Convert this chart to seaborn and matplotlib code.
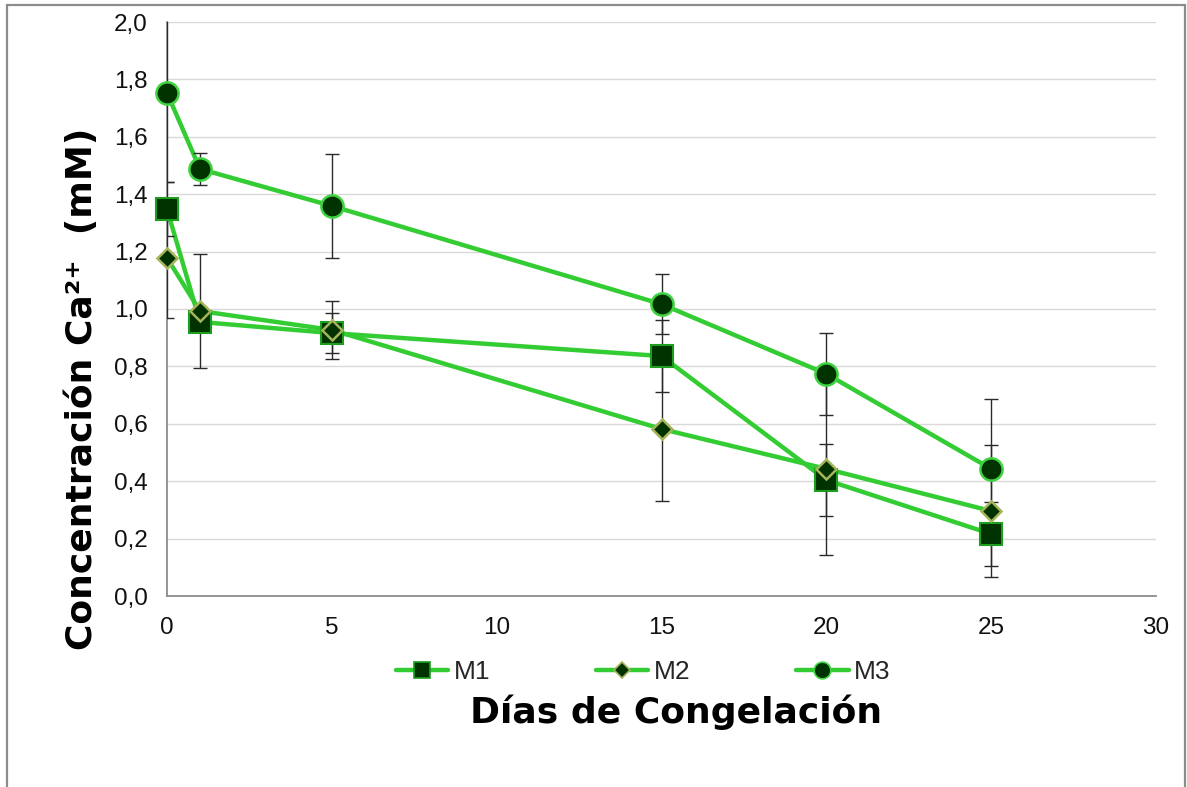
import matplotlib
matplotlib.use("Agg")
import matplotlib.pyplot as plt
from matplotlib.lines import Line2D
from matplotlib.patches import Rectangle
from matplotlib.ticker import FuncFormatter, MultipleLocator
import pandas as pd
import seaborn as sns

# Calcium concentration (mM) over freezing days for three samples
dias = [0, 1, 5, 15, 20, 25]
series = ["M1", "M2", "M3"]
m1 = [1.348, 0.955, 0.916, 0.836, 0.404, 0.216]
m2 = [1.178, 0.993, 0.927, 0.582, 0.443, 0.296]
m3 = [1.753, 1.488, 1.359, 1.017, 0.774, 0.443]
m1_err = [0.095, 0.03, 0.07, 0.125, 0.125, 0.11]
m2_err = [0.21, 0.20, 0.10, 0.25, 0.30, 0.23]
m3_err = [0.31, 0.056, 0.18, 0.105, 0.142, 0.245]

x_ticks = [0, 5, 10, 15, 20, 25, 30]
y_label = "Concentración Ca²⁺  (mM)"
x_label = "Días de Congelación"

values = {"M1": m1, "M2": m2, "M3": m3}
errors = {"M1": m1_err, "M2": m2_err, "M3": m3_err}

rows = []
for s in series:
    for d, v, e in zip(dias, values[s], errors[s]):
        rows.append({"dia": d, "ca": v, "err": e, "muestra": s})
df = pd.DataFrame(rows)

sns.set_theme(style="white")
plt.rcParams["font.family"] = ["Liberation Sans", "DejaVu Sans"]

LINE = "#33CC33"
FILL = "#003300"
styles = {
    "M1": dict(marker="s", markersize=16, markeredgecolor="#1E9E1E", mew=1.5),
    "M2": dict(marker="D", markersize=10.5, markeredgecolor="#A6B45A", mew=1.8),
    "M3": dict(marker="o", markersize=16, markeredgecolor="#3FD43F", mew=1.8),
}

fig = plt.figure(figsize=(11.87, 7.87), dpi=100)
ax = fig.add_axes([167 / 1187, 1 - 596 / 787, (1156 - 167) / 1187, (596 - 22) / 787])

# outer chart frame
fig.patches.append(Rectangle((7 / 1187, -0.05), (1185 - 7) / 1187, 1.05 - 5 / 787,
                             transform=fig.transFigure, fill=False,
                             edgecolor="#8C8C8C", linewidth=1.6, zorder=0))

order = ["M3", "M1", "M2"]
for s in order:
    sub = df[df["muestra"] == s]
    sns.lineplot(data=sub, x="dia", y="ca", ax=ax, color=LINE, linewidth=3.2,
                 errorbar=None, zorder=2, legend=False, sort=False)
for s in order:
    sub = df[df["muestra"] == s]
    ax.errorbar(sub["dia"], sub["ca"], yerr=sub["err"], fmt="none",
                ecolor="#2A2A2A", elinewidth=1.0, capsize=5, capthick=1.0,
                zorder=3)
for s in order:
    sub = df[df["muestra"] == s]
    sns.lineplot(data=sub, x="dia", y="ca", ax=ax, linestyle="none",
                 markerfacecolor=FILL, errorbar=None, zorder=4,
                 legend=False, clip_on=False, **styles[s])

ax.set_xlim(0, 30)
ax.set_ylim(0, 2.0)
ax.set_xticks(x_ticks)
ax.yaxis.set_major_locator(MultipleLocator(0.2))
ax.yaxis.set_major_formatter(FuncFormatter(lambda v, p: f"{v:.1f}".replace(".", ",")))
ax.grid(axis="y", color="#D9D9D9", linewidth=1.0)
ax.grid(axis="x", visible=False)
ax.set_axisbelow(True)
for side in ["top", "right"]:
    ax.spines[side].set_visible(False)
for side in ["left", "bottom"]:
    ax.spines[side].set_color("#8C8C8C")
    ax.spines[side].set_linewidth(1.3)
ax.tick_params(axis="both", which="major", direction="out", length=6,
               width=1.0, color="#8C8C8C", labelsize=17.5, labelcolor="#111111")
ax.tick_params(axis="y", pad=8)
ax.tick_params(axis="x", pad=9)

ax.set_xlabel("")
ax.set_ylabel("")
fig.text(82 / 1187, 1 - 389 / 787, y_label, rotation=90, ha="center", va="center",
         fontsize=26, fontweight="bold", family=["DejaVu Sans"], color="black")

fig.text(676 / 1187, 1 - 712 / 787, x_label, ha="center", va="center",
         fontsize=26, fontweight="bold", family=["DejaVu Sans"], color="black")

handles = [
    Line2D([], [], color=LINE, linewidth=3.2, marker="s", markersize=12,
           markerfacecolor=FILL, markeredgecolor="#1E9E1E", mew=1.2),
    Line2D([], [], color=LINE, linewidth=3.2, marker="D", markersize=8.5,
           markerfacecolor=FILL, markeredgecolor="#A6B45A", mew=1.2),
    Line2D([], [], color=LINE, linewidth=3.2, marker="o", markersize=12,
           markerfacecolor=FILL, markeredgecolor="#3FD43F", mew=1.2),
]
fig.legend(handles=handles, labels=series, loc="center",
           bbox_to_anchor=(643 / 1187, 1 - 672 / 787), ncol=3, frameon=False,
           fontsize=19, handlelength=2.0, handletextpad=0.2,
           columnspacing=4.0, borderpad=0)

fig.savefig("out.png", dpi=100)
